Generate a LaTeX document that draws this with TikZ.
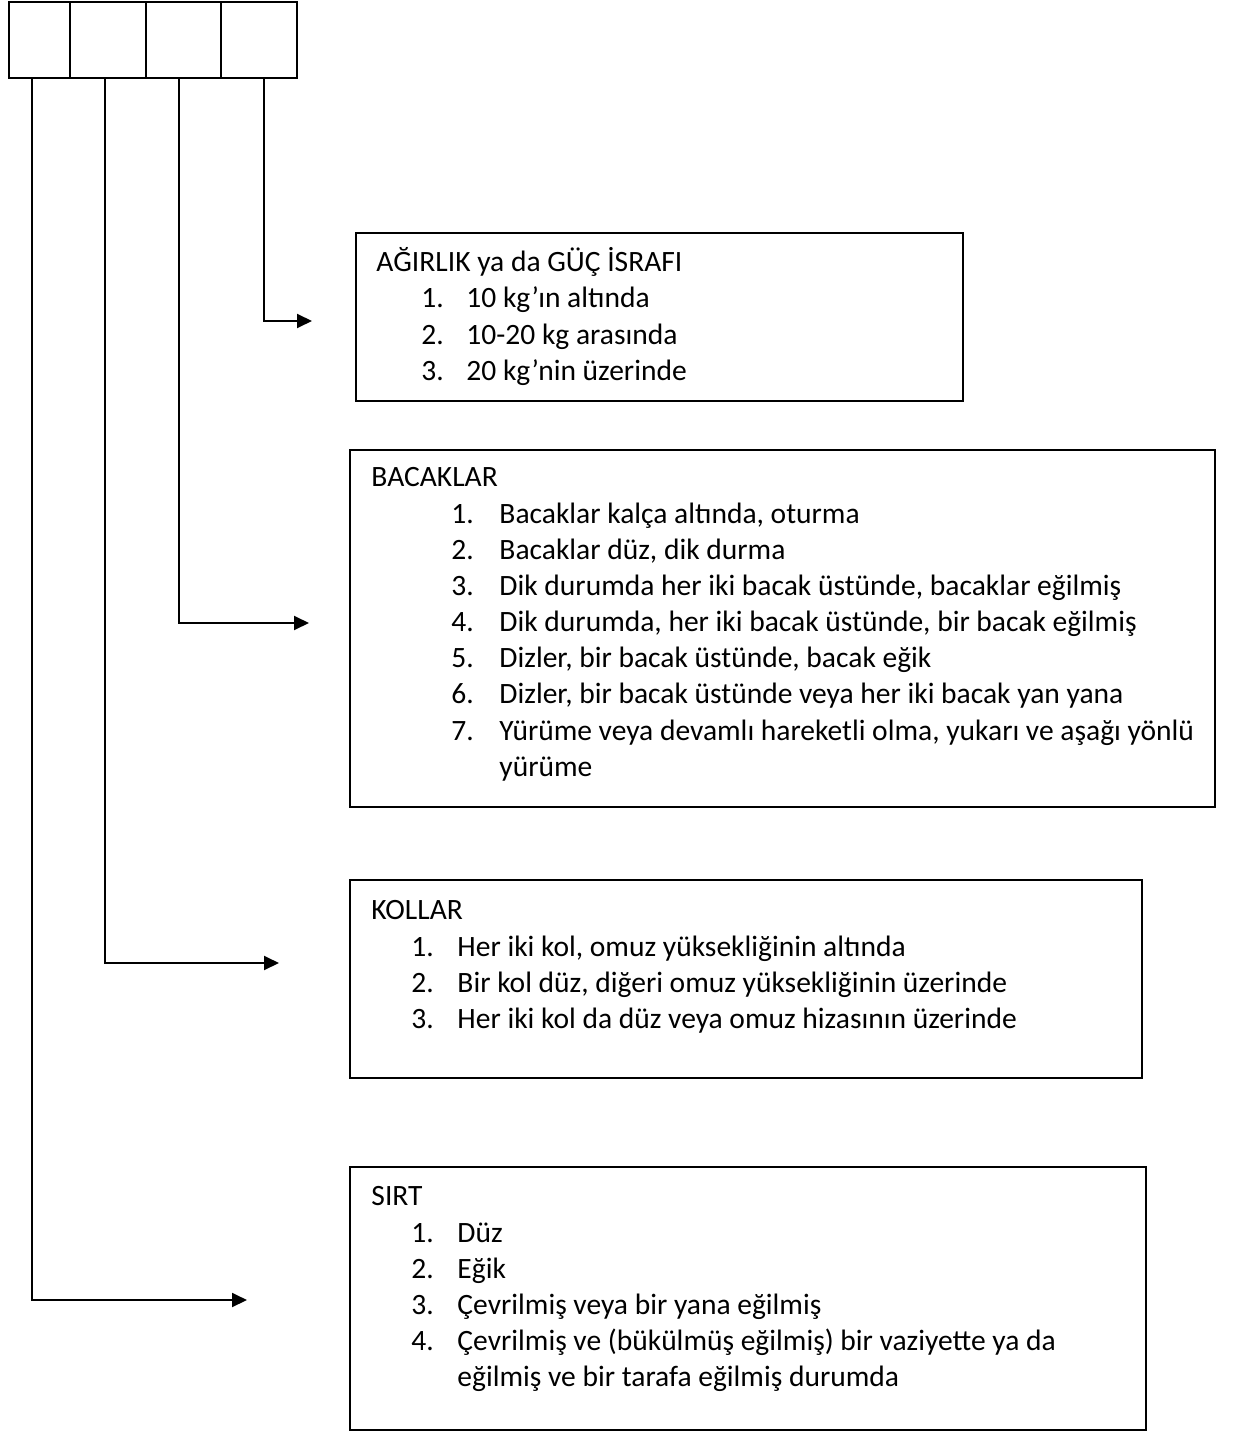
\documentclass[tikz,border=0pt]{standalone}
\usepackage{fontspec}
\setmainfont{Carlito}
\usepackage{tikz}
\usetikzlibrary{arrows.meta,positioning,fit}
\newdimen\pxu \pxu=0.02cm

\begin{document}
\begin{tikzpicture}[x=0.02cm,y=-0.02cm]
\tikzstyle{cell}=[rectangle,draw,line width=1.2pt,inner sep=0pt,outer sep=0pt,minimum width=76\pxu,minimum height=76\pxu]
\tikzstyle{frame}=[rectangle,draw,line width=1pt,inner sep=0pt]
\tikzstyle{content}=[anchor=north west,inner sep=0pt,font=\fontsize{16.8pt}{20.6pt}\selectfont]
\tikzstyle{pointer}=[line width=1.1pt,-{Triangle[length=0.3cm,width=0.28cm]}]
\useasboundingbox (0,0) rectangle (1234,1432);

\node[cell,anchor=north west,minimum width=61\pxu] (cell1) at (9,2) {};
\node[cell,right=0pt of cell1] (cell2) {};
\node[cell,right=0pt of cell2,minimum width=75\pxu] (cell3) {};
\node[cell,right=0pt of cell3] (cell4) {};

\node[frame,fit={(356,233)(963,401)}] (agirlik) {};
\node[frame,fit={(350,450)(1215,807)}] (bacaklar) {};
\node[frame,fit={(350,880)(1142,1078)}] (kollar) {};
\node[frame,fit={(350,1167)(1146,1430)}] (sirt) {};

\node[content] (agirlik_text) at ([shift={(21,14)}]agirlik.north west) {%
\begin{tabular}{@{\hspace{45\pxu}}p{45\pxu}@{}l@{}}
\multicolumn{2}{@{}l@{}}{AĞIRLIK ya da GÜÇ İSRAFI}\\
1. & 10 kg’ın altında\\
2. & 10-20 kg arasında\\
3. & 20 kg’nin üzerinde
\end{tabular}};

\node[content] (bacaklar_text) at ([shift={(22,12)}]bacaklar.north west) {%
\begin{tabular}{@{\hspace{80\pxu}}p{48\pxu}@{}l@{}}
\multicolumn{2}{@{}l@{}}{BACAKLAR}\\
1. & Bacaklar kalça altında, oturma\\
2. & Bacaklar düz, dik durma\\
3. & Dik durumda her iki bacak üstünde, bacaklar eğilmiş\\
4. & Dik durumda, her iki bacak üstünde, bir bacak eğilmiş\\
5. & Dizler, bir bacak üstünde, bacak eğik\\
6. & Dizler, bir bacak üstünde veya her iki bacak yan yana\\
7. & Yürüme veya devamlı hareketli olma, yukarı ve aşağı yönlü\\
   & yürüme
\end{tabular}};

\node[content] (kollar_text) at ([shift={(22,15)}]kollar.north west) {%
\begin{tabular}{@{\hspace{40\pxu}}p{46\pxu}@{}l@{}}
\multicolumn{2}{@{}l@{}}{KOLLAR}\\
1. & Her iki kol, omuz yüksekliğinin altında\\
2. & Bir kol düz, diğeri omuz yüksekliğinin üzerinde\\
3. & Her iki kol da düz veya omuz hizasının üzerinde
\end{tabular}};

\node[content] (sirt_text) at ([shift={(22,14)}]sirt.north west) {%
\begin{tabular}{@{\hspace{40\pxu}}p{46\pxu}@{}l@{}}
\multicolumn{2}{@{}l@{}}{SIRT}\\
1. & Düz\\
2. & Eğik\\
3. & Çevrilmiş veya bir yana eğilmiş\\
4. & Çevrilmiş ve (bükülmüş eğilmiş) bir vaziyette ya da\\
   & eğilmiş ve bir tarafa eğilmiş durumda
\end{tabular}};

% arrow ends in front of the boxes
\coordinate (tip4) at (312,321);
\coordinate (tip3) at (309,623);
\coordinate (tip2) at (279,963);
\coordinate (tip1) at (247,1300);

\draw[pointer] ([xshift=0.1cm]cell4.south) |- (tip4);
\draw[pointer] ([xshift=-0.09cm]cell3.south) |- (tip3);
\draw[pointer] ([xshift=-0.06cm]cell2.south) |- (tip2);
\draw[pointer] ([xshift=-0.15cm]cell1.south) |- (tip1);

\end{tikzpicture}
\end{document}
